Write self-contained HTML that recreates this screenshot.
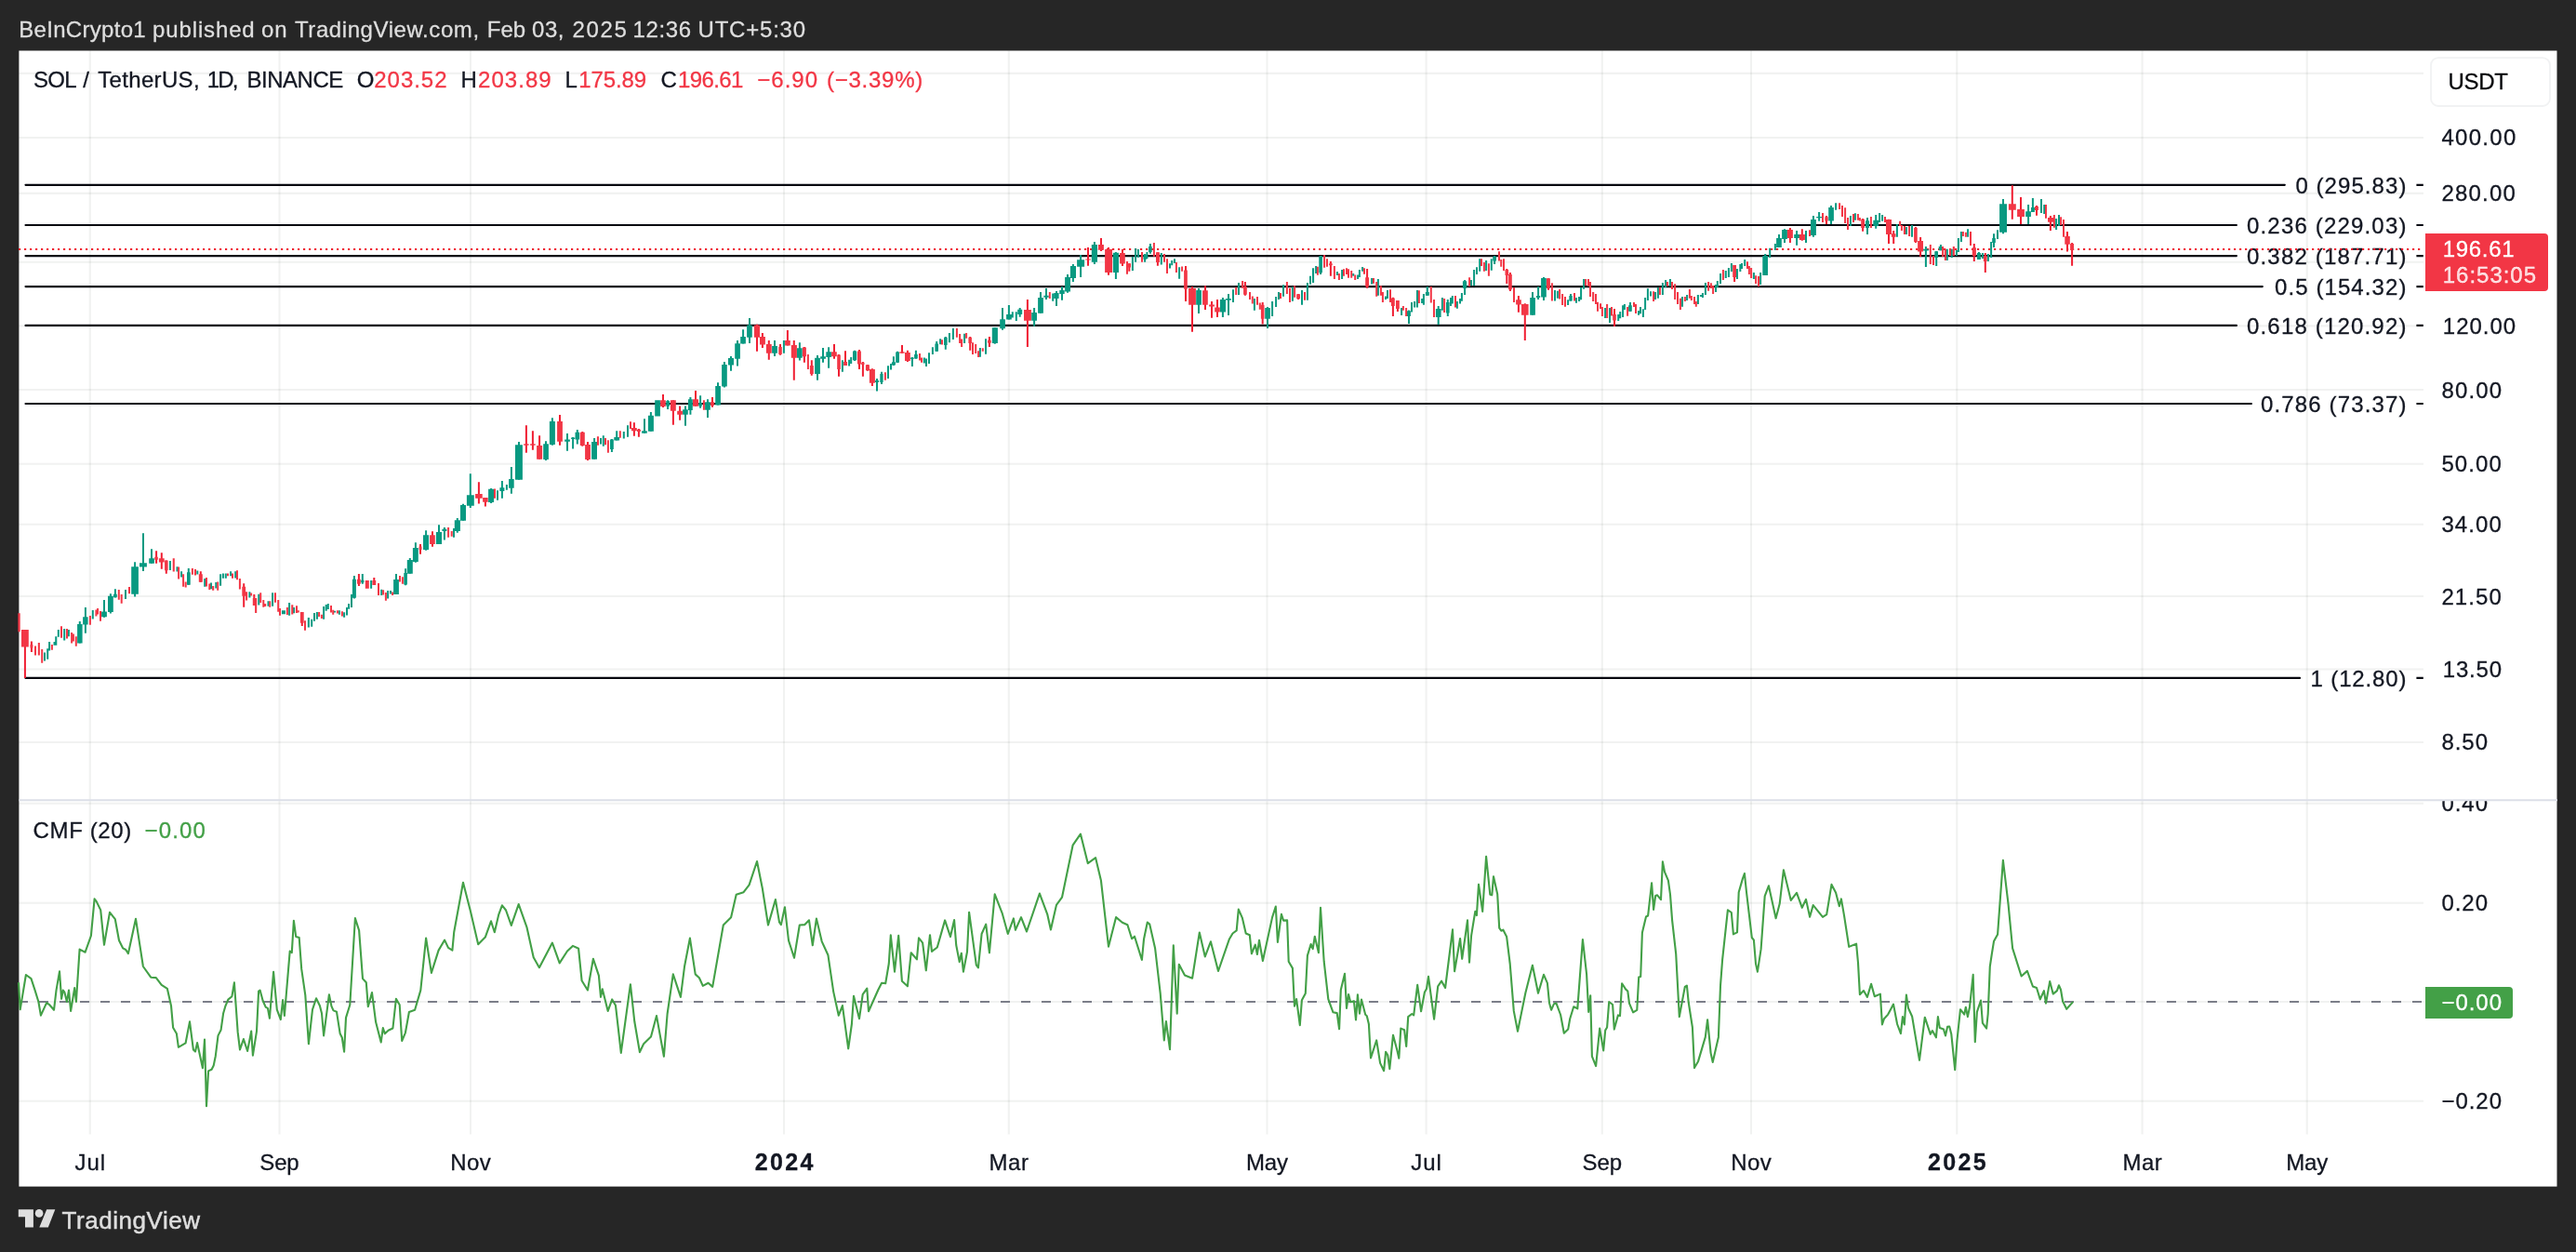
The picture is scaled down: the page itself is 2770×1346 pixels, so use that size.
<!DOCTYPE html>
<html><head><meta charset="utf-8"><title>SOL / TetherUS chart</title>
<style>html,body{margin:0;padding:0;background:#262626;}body{width:2770px;height:1346px;overflow:hidden;font-family:"Liberation Sans",sans-serif;}svg{will-change:transform}svg text{font-family:"Liberation Sans",sans-serif;white-space:pre}</style>
</head><body>
<svg width="2770" height="1346" viewBox="0 0 2770 1346" style="display:block">
<rect x="0" y="0" width="2770" height="1346" fill="#262626"/>
<rect x="20.4" y="54.5" width="2729.1" height="1221.1" fill="#ffffff"/>
<path d="M96.8 54.3V1219.6M300.5 54.3V1219.6M506 54.3V1219.6M843 54.3V1219.6M1084.8 54.3V1219.6M1362.5 54.3V1219.6M1533.6 54.3V1219.6M1722.8 54.3V1219.6M1883 54.3V1219.6M2104.3 54.3V1219.6M2303.6 54.3V1219.6M2480.7 54.3V1219.6" stroke="#1c2b26" stroke-opacity="0.062" stroke-width="2.1" fill="none"/>
<path d="M20.4 78.9H2606M20.4 148.0H2606M20.4 207.9H2606M20.4 281.8H2606M20.4 350.4H2606M20.4 419.0H2606M20.4 498.8H2606M20.4 563.8H2606M20.4 641.0H2606M20.4 719.5H2606M20.4 798.0H2606M20.4 863.8H2606M20.4 970.8H2606M20.4 1077H2606M20.4 1183.7H2606" stroke="#1c2b26" stroke-opacity="0.062" stroke-width="2.1" fill="none"/>
<path d="M20.4 860.2H2750" stroke="#dcdfe8" stroke-width="2" fill="none"/>
<path d="M27.5 198.8H2456.8M27.5 242.0H2404.9M27.5 275.1H2404.9M27.5 308.1H2432.8M27.5 349.9H2404.9M27.5 434.0H2420.9M27.5 728.9H2473.0" stroke="#06070f" stroke-width="2.2" stroke-linecap="round" fill="none"/>
<path d="M2598.4 198.8H2605.8M2598.4 242.0H2605.8M2598.4 275.1H2605.8M2598.4 308.1H2605.8M2598.4 349.9H2605.8M2598.4 434.0H2605.8M2598.4 728.9H2605.8" stroke="#0c0e15" stroke-width="2.2" fill="none"/>
<path d="M20 1077H2606" stroke="#7b7e89" stroke-width="2" stroke-dasharray="10 12" fill="none"/>
<polyline points="20.0,1056.3 21.7,1085.3 27.9,1048.0 33.5,1052.1 37.6,1064.6 41.4,1077.0 43.9,1091.6 50.1,1078.1 53.2,1080.2 58.0,1085.8 60.5,1064.6 64.0,1044.4 66.1,1073.9 67.8,1064.6 69.4,1066.7 71.9,1077.0 74.0,1064.6 76.1,1087.0 80.2,1062.1 81.9,1077.0 85.6,1020.6 91.6,1023.7 97.9,1006.0 101.6,966.4 103.7,969.1 108.2,978.4 112.0,1015.8 118.0,980.9 123.8,988.2 128.0,1011.0 132.1,1019.3 135.2,1021.0 137.9,1025.1 146.0,987.8 153.9,1039.0 162.2,1050.7 167.8,1051.1 173.7,1058.8 179.9,1062.9 184.0,1081.2 186.1,1104.7 189.9,1111.3 191.9,1125.8 199.6,1121.3 204.0,1098.4 207.9,1128.5 210.0,1130.6 212.1,1121.1 217.9,1148.3 220.0,1117.5 222.0,1189.2 224.1,1151.4 227.6,1149.7 229.7,1145.6 231.8,1135.2 234.5,1113.4 237.6,1107.2 240.1,1089.5 242.2,1082.2 245.3,1074.6 249.4,1071.2 251.9,1056.3 255.7,1109.9 258.0,1128.5 261.9,1117.1 266.1,1130.0 270.2,1108.6 271.9,1134.6 276.0,1108.6 278.1,1065.6 279.6,1064.6 282.7,1076.0 285.8,1082.9 287.9,1083.9 289.9,1094.7 294.1,1044.9 297.8,1085.3 301.8,1096.1 304.1,1075.0 305.9,1092.0 311.7,1022.6 313.8,1024.1 315.9,989.8 318.2,1006.9 321.7,1008.1 324.2,1041.7 328.3,1069.8 331.9,1122.3 336.0,1085.3 340.0,1073.3 343.9,1081.2 346.0,1089.5 348.1,1113.4 353.9,1069.2 356.4,1081.6 358.5,1086.4 362.0,1087.8 365.7,1111.3 367.8,1115.5 370.1,1130.6 372.0,1094.1 376.3,1080.2 381.9,987.1 386.1,1000.2 390.0,1052.1 393.8,1056.3 395.8,1082.2 400.0,1067.1 404.1,1098.8 409.7,1120.6 411.8,1105.1 413.9,1111.3 417.6,1107.8 422.4,1105.5 425.9,1073.9 429.7,1080.2 432.2,1119.0 435.9,1110.3 439.9,1088.0 446.1,1085.8 452.3,1064.6 458.1,1008.5 463.9,1045.9 471.6,1021.6 478.1,1010.6 482.0,1018.9 486.4,1021.6 488.2,1002.3 498.0,948.7 505.9,979.5 514.2,1015.2 521.8,1007.6 528.0,990.3 531.8,1002.2 536.3,983.1 539.9,973.3 544.0,978.5 549.8,994.9 557.7,972.1 566.4,996.6 573.7,1029.2 579.9,1040.2 593.9,1013.6 601.7,1035.4 610.0,1022.5 615.9,1016.9 622.1,1019.8 625.6,1054.3 631.9,1064.5 637.9,1030.8 643.9,1048.9 646.0,1071.9 647.8,1063.4 653.7,1086.9 658.2,1074.4 662.0,1081.1 667.8,1131.9 677.9,1058.2 682.3,1098.3 687.9,1131.1 692.1,1122.2 700.0,1114.5 706.0,1092.1 713.9,1135.7 717.6,1090.0 723.8,1047.4 731.9,1071.9 736.1,1038.7 741.9,1008.6 747.7,1047.4 751.9,1051.2 755.8,1059.9 761.6,1056.8 766.2,1060.9 777.8,994.5 786.1,986.2 791.7,961.7 799.6,959.2 805.6,951.3 814.0,926.0 819.8,955.0 826.0,994.5 833.9,967.1 838.0,991.4 839.9,994.1 843.9,975.2 848.0,1011.1 854.0,1029.8 859.8,994.5 865.4,994.1 870.0,989.3 873.8,1016.3 877.9,987.6 883.7,1012.1 890.4,1026.7 896.2,1066.1 901.8,1091.7 905.9,1081.1 912.2,1127.4 915.9,1101.0 918.0,1070.7 924.0,1095.2 927.7,1069.2 932.3,1062.6 934.0,1087.3 944.4,1064.0 948.1,1056.8 952.2,1057.2 955.8,1036.0 957.8,1005.3 962.0,1044.7 966.2,1005.9 969.9,1054.7 975.9,1060.3 979.7,1024.2 985.9,1031.4 988.0,1008.4 992.1,1013.6 995.8,1043.3 1000.0,1005.2 1002.0,1022.9 1007.8,1018.5 1016.1,989.4 1022.0,1007.1 1026.1,989.0 1028.2,1016.0 1031.7,1034.1 1033.8,1024.7 1035.9,1044.7 1040.0,1023.3 1042.1,980.7 1049.8,1037.4 1051.9,1040.3 1055.6,1004.0 1060.2,993.6 1063.9,1024.3 1069.7,961.4 1077.8,982.2 1083.8,1004.0 1089.9,987.4 1091.9,999.8 1098.0,986.1 1104.0,1001.5 1117.9,960.6 1126.2,982.8 1129.9,999.4 1136.0,972.8 1142.0,964.7 1153.6,908.7 1161.9,896.6 1169.8,928.2 1178.1,922.2 1183.9,946.4 1192.0,1017.7 1200.1,986.1 1206.8,991.7 1212.4,994.2 1217.1,1009.2 1220.0,1006.7 1227.9,1032.0 1230.0,1009.8 1233.8,991.5 1236.2,993.6 1242.1,1019.5 1247.7,1067.9 1251.8,1118.4 1253.9,1098.0 1258.0,1128.1 1261.8,1016.4 1265.7,1089.7 1267.8,1036.8 1274.0,1048.6 1282.1,1051.7 1289.8,1002.5 1295.8,1028.5 1301.9,1012.3 1310.0,1044.0 1321.8,1009.8 1325.5,1003.5 1329.7,1000.4 1331.8,977.6 1335.9,986.9 1339.7,1003.5 1343.8,1005.2 1345.9,1025.3 1349.8,1015.6 1351.9,1026.0 1354.0,1010.8 1357.9,1033.0 1368.1,986.1 1371.8,974.5 1373.9,1012.9 1377.9,982.8 1380.1,989.6 1384.1,989.4 1385.7,1033.7 1389.9,1040.9 1392.0,1081.8 1394.1,1074.1 1397.8,1102.2 1399.9,1075.2 1403.8,1067.9 1405.9,1027.4 1409.6,1015.0 1411.7,1020.2 1413.8,1006.7 1417.9,1024.3 1420.0,975.9 1423.7,1033.7 1428.3,1074.1 1433.5,1088.3 1437.7,1089.1 1440.1,1106.3 1441.8,1064.2 1446.0,1046.7 1448.0,1083.9 1450.1,1069.0 1452.2,1077.3 1455.9,1076.2 1458.0,1096.4 1459.9,1069.4 1462.0,1089.7 1464.0,1074.6 1468.2,1090.8 1469.8,1092.2 1471.9,1101.1 1474.0,1137.5 1480.2,1118.4 1484.1,1142.9 1488.1,1151.2 1490.1,1130.9 1492.2,1134.2 1494.3,1149.2 1498.0,1112.8 1502.2,1128.4 1504.3,1137.7 1506.3,1105.6 1510.1,1107.2 1512.2,1124.9 1514.2,1093.1 1518.2,1090.0 1520.2,1091.4 1524.2,1058.8 1528.1,1087.3 1531.9,1066.7 1534.0,1063.0 1536.0,1049.9 1542.1,1095.6 1546.2,1060.3 1550.1,1054.7 1554.1,1062.0 1562.0,999.3 1564.1,1044.3 1570.1,1009.0 1572.2,1030.8 1578.0,989.3 1580.0,1034.6 1582.1,1005.9 1586.3,979.9 1587.9,984.1 1590.0,950.9 1594.2,979.9 1598.1,920.8 1602.3,961.7 1604.3,962.3 1606.0,942.2 1610.2,961.3 1612.2,997.6 1614.3,1000.7 1616.4,999.7 1620.1,1006.9 1623.7,1036.0 1627.8,1086.9 1632.0,1108.7 1640.3,1067.8 1647.9,1037.7 1654.0,1067.8 1660.0,1047.8 1663.9,1056.8 1666.0,1078.2 1668.1,1085.8 1671.0,1079.2 1673.5,1078.6 1678.1,1091.0 1681.8,1110.8 1686.2,1106.6 1688.2,1095.2 1692.2,1082.3 1696.3,1084.4 1701.9,1010.0 1706.1,1047.4 1708.2,1087.9 1710.2,1070.3 1711.9,1135.7 1716.1,1146.1 1720.2,1105.6 1724.2,1129.4 1726.2,1107.6 1728.1,1104.5 1730.2,1077.1 1734.1,1080.0 1735.8,1106.6 1739.9,1091.4 1742.0,1092.1 1744.1,1057.2 1748.2,1063.6 1750.3,1065.5 1752.0,1078.6 1756.1,1088.3 1760.3,1085.8 1762.2,1050.5 1764.2,1049.9 1765.9,1002.8 1770.0,985.5 1772.1,984.5 1776.1,949.2 1778.1,977.9 1780.2,962.9 1782.1,962.3 1786.0,967.1 1787.9,926.4 1790.0,937.4 1793.9,946.7 1796.0,961.7 1798.1,989.3 1802.2,1025.6 1805.8,1093.1 1811.8,1060.9 1813.9,1059.5 1815.7,1077.5 1819.9,1104.5 1822.0,1148.1 1826.1,1140.9 1833.8,1114.9 1836.1,1096.2 1839.6,1132.1 1841.7,1141.9 1847.9,1114.9 1850.0,1059.9 1852.1,1031.9 1857.9,978.3 1861.8,981.0 1863.9,1004.4 1868.0,1002.4 1869.7,959.2 1873.9,944.6 1875.9,939.0 1878.0,959.2 1883.8,1008.0 1885.9,1010.7 1888.0,1036.0 1889.9,1044.7 1893.6,1020.4 1897.7,963.3 1901.9,952.3 1909.6,987.2 1913.7,971.6 1917.9,935.3 1925.8,967.9 1932.0,959.8 1937.8,975.8 1942.0,966.9 1946.1,985.8 1949.7,973.1 1960.0,985.8 1964.2,983.1 1969.5,950.9 1974.1,959.8 1977.8,974.3 1979.9,966.4 1983.0,984.1 1988.2,1017.9 1996.1,1014.6 1998.0,1035.0 1999.9,1069.2 2004.0,1065.1 2007.9,1071.9 2012.1,1057.8 2015.8,1071.3 2021.9,1068.6 2023.9,1101.4 2026.0,1095.2 2030.2,1090.6 2036.0,1079.6 2040.1,1101.0 2043.9,1111.2 2045.9,1093.1 2047.8,1101.4 2049.9,1069.6 2052.0,1083.8 2056.1,1092.7 2064.0,1139.8 2069.8,1093.7 2075.8,1111.8 2077.9,1108.1 2081.9,1115.3 2083.9,1093.1 2085.8,1105.1 2090.0,1106.6 2092.0,1113.5 2094.1,1103.9 2096.2,1103.5 2098.3,1111.8 2102.2,1150.2 2104.5,1118.0 2108.0,1085.2 2112.2,1090.6 2113.8,1082.7 2115.9,1093.1 2118.0,1082.7 2121.7,1047.8 2123.8,1120.1 2125.9,1087.9 2130.0,1075.5 2131.9,1099.8 2136.1,1105.6 2137.7,1090.0 2139.8,1039.1 2141.9,1025.2 2144.0,1012.1 2148.1,1004.4 2153.9,924.9 2159.5,971.6 2164.1,1019.4 2173.6,1049.5 2179.9,1043.9 2185.9,1060.5 2190.0,1062.0 2193.8,1074.4 2197.9,1065.1 2200.0,1078.6 2204.2,1055.1 2207.7,1068.6 2211.9,1065.1 2213.9,1059.3 2216.0,1064.0 2218.1,1076.5 2222.2,1084.8 2229.1,1077.1" stroke="#43a047" stroke-width="2.1" fill="none" stroke-linejoin="round"/>
<g font-family="Liberation Sans, sans-serif">
<text x="20.3" y="39.5" font-size="24" fill="#dedede" textLength="136.4" lengthAdjust="spacing" stroke="#dedede" stroke-width="0.3" >BeInCrypto1</text>
<text x="164.1" y="39.5" font-size="24" fill="#dedede" textLength="109.6" lengthAdjust="spacing" stroke="#dedede" stroke-width="0.3" >published</text>
<text x="281.1" y="39.5" font-size="24" fill="#dedede" textLength="27.6" lengthAdjust="spacing" stroke="#dedede" stroke-width="0.3" >on</text>
<text x="317.0" y="39.5" font-size="24" fill="#dedede" textLength="198.1" lengthAdjust="spacing" stroke="#dedede" stroke-width="0.3" >TradingView.com,</text>
<text x="523.7" y="39.5" font-size="24" fill="#dedede" textLength="41.4" lengthAdjust="spacing" stroke="#dedede" stroke-width="0.3" >Feb</text>
<text x="572.0" y="39.5" font-size="24" fill="#dedede" textLength="34.5" lengthAdjust="spacing" stroke="#dedede" stroke-width="0.3" >03,</text>
<text x="615.6" y="39.5" font-size="24" fill="#dedede" textLength="58.3" lengthAdjust="spacing" stroke="#dedede" stroke-width="0.3" >2025</text>
<text x="680.5" y="39.5" font-size="24" fill="#dedede" textLength="62.6" lengthAdjust="spacing" stroke="#dedede" stroke-width="0.3" >12:36</text>
<text x="750.5" y="39.5" font-size="24" fill="#dedede" textLength="115.6" lengthAdjust="spacing" stroke="#dedede" stroke-width="0.3" >UTC+5:30</text>
<text x="36.0" y="94" font-size="24" fill="#131722" textLength="46.6" lengthAdjust="spacing" stroke="#131722" stroke-width="0.3" >SOL</text>
<text x="89.2" y="94" font-size="24" fill="#131722" textLength="6.0" lengthAdjust="spacing" stroke="#131722" stroke-width="0.3" >/</text>
<text x="105.3" y="94" font-size="24" fill="#131722" textLength="109.3" lengthAdjust="spacing" stroke="#131722" stroke-width="0.3" >TetherUS,</text>
<text x="222.7" y="94" font-size="24" fill="#131722" textLength="33.6" lengthAdjust="spacing" stroke="#131722" stroke-width="0.3" >1D,</text>
<text x="265.4" y="94" font-size="24" fill="#131722" textLength="103.9" lengthAdjust="spacing" stroke="#131722" stroke-width="0.3" >BINANCE</text>
<text x="383.8" y="94" font-size="24" fill="#131722" textLength="17.5" lengthAdjust="spacing" stroke="#131722" stroke-width="0.3" >O</text>
<text x="402.3" y="94" font-size="24" fill="#f23645" textLength="78.2" lengthAdjust="spacing" stroke="#f23645" stroke-width="0.3" >203.52</text>
<text x="495.4" y="94" font-size="24" fill="#131722" textLength="16.7" lengthAdjust="spacing" stroke="#131722" stroke-width="0.3" >H</text>
<text x="514.0" y="94" font-size="24" fill="#f23645" textLength="78.7" lengthAdjust="spacing" stroke="#f23645" stroke-width="0.3" >203.89</text>
<text x="607.6" y="94" font-size="24" fill="#131722" textLength="12.3" lengthAdjust="spacing" stroke="#131722" stroke-width="0.3" >L</text>
<text x="622.2" y="94" font-size="24" fill="#f23645" textLength="73.0" lengthAdjust="spacing" stroke="#f23645" stroke-width="0.3" >175.89</text>
<text x="710.5" y="94" font-size="24" fill="#131722" textLength="16.1" lengthAdjust="spacing" stroke="#131722" stroke-width="0.3" >C</text>
<text x="728.9" y="94" font-size="24" fill="#f23645" textLength="70.5" lengthAdjust="spacing" stroke="#f23645" stroke-width="0.3" >196.61</text>
<text x="814.3" y="94" font-size="24" fill="#f23645" textLength="64.7" lengthAdjust="spacing" stroke="#f23645" stroke-width="0.3" >−6.90</text>
<text x="889.0" y="94" font-size="24" fill="#f23645" textLength="103.2" lengthAdjust="spacing" stroke="#f23645" stroke-width="0.3" >(−3.39%)</text>
<text x="35.6" y="901.1" font-size="24" fill="#131722" textLength="105.6" lengthAdjust="spacing" stroke="#131722" stroke-width="0.3" >CMF (20)</text>
<text x="155.6" y="901.1" font-size="24" fill="#43a047" textLength="65.2" lengthAdjust="spacing" stroke="#43a047" stroke-width="0.3" >−0.00</text>
<rect x="2614" y="62.1" width="128" height="51.9" rx="8" fill="#fff" stroke="#f1f2f3" stroke-width="1.8"/>
<text x="2632.5" y="96" font-size="24" fill="#06070a" textLength="64.3" lengthAdjust="spacing" stroke="#06070a" stroke-width="0.3" >USDT</text>
<text x="2625.4" y="155.9" font-size="24" fill="#131722" textLength="79.9" lengthAdjust="spacing" stroke="#131722" stroke-width="0.3" >400.00</text>
<text x="2625.4" y="215.9" font-size="24" fill="#131722" textLength="79.5" lengthAdjust="spacing" stroke="#131722" stroke-width="0.3" >280.00</text>
<text x="2626.8" y="358.8" font-size="24" fill="#131722" textLength="78.3" lengthAdjust="spacing" stroke="#131722" stroke-width="0.3" >120.00</text>
<text x="2625.4" y="427.8" font-size="24" fill="#131722" textLength="64.8" lengthAdjust="spacing" stroke="#131722" stroke-width="0.3" >80.00</text>
<text x="2625.4" y="506.9" font-size="24" fill="#131722" textLength="64.4" lengthAdjust="spacing" stroke="#131722" stroke-width="0.3" >50.00</text>
<text x="2625.4" y="571.9" font-size="24" fill="#131722" textLength="64.4" lengthAdjust="spacing" stroke="#131722" stroke-width="0.3" >34.00</text>
<text x="2625.4" y="649.8" font-size="24" fill="#131722" textLength="64.4" lengthAdjust="spacing" stroke="#131722" stroke-width="0.3" >21.50</text>
<text x="2626.8" y="727.6" font-size="24" fill="#131722" textLength="63.2" lengthAdjust="spacing" stroke="#131722" stroke-width="0.3" >13.50</text>
<text x="2625.4" y="806.2" font-size="24" fill="#131722" textLength="49.6" lengthAdjust="spacing" stroke="#131722" stroke-width="0.3" >8.50</text>
<clipPath id="cp"><rect x="2606" y="861.3" width="144" height="400"/></clipPath>
<text x="2625.4" y="871.7" font-size="24" fill="#131722" textLength="49.6" lengthAdjust="spacing" stroke="#131722" stroke-width="0.3" clip-path="url(#cp)">0.40</text>
<text x="2625.4" y="978.8" font-size="24" fill="#131722" textLength="49.6" lengthAdjust="spacing" stroke="#131722" stroke-width="0.3" >0.20</text>
<text x="2625.6" y="1191.9" font-size="24" fill="#131722" textLength="64.4" lengthAdjust="spacing" stroke="#131722" stroke-width="0.3" >−0.20</text>
<path d="M2608 251H2736a4 4 0 0 1 4 4V309a4 4 0 0 1-4 4H2608Z" fill="#f23645"/>
<text x="2626.8" y="275.8" font-size="24" fill="#ffffff" textLength="76.7" lengthAdjust="spacing" stroke="#ffffff" stroke-width="0.3" >196.61</text>
<text x="2626.8" y="304" font-size="24" fill="#ffffff" textLength="100.2" lengthAdjust="spacing" stroke="#ffffff" stroke-width="0.3" fill-opacity="0.82">16:53:05</text>
<path d="M2608 1061H2698a4 4 0 0 1 4 4V1091a4 4 0 0 1-4 4H2608Z" fill="#43a047"/>
<text x="2625.6" y="1085.7" font-size="24" fill="#ffffff" textLength="64.4" lengthAdjust="spacing" stroke="#ffffff" stroke-width="0.3" >−0.00</text>
<text x="2468.4" y="207.6" font-size="24" fill="#131722" textLength="119.0" lengthAdjust="spacing" stroke="#131722" stroke-width="0.3" >0 (295.83)</text>
<text x="2416" y="250.7" font-size="24" fill="#131722" textLength="171.4" lengthAdjust="spacing" stroke="#131722" stroke-width="0.3" >0.236 (229.03)</text>
<text x="2416" y="283.8" font-size="24" fill="#131722" textLength="171.4" lengthAdjust="spacing" stroke="#131722" stroke-width="0.3" >0.382 (187.71)</text>
<text x="2446" y="316.5" font-size="24" fill="#131722" textLength="141.4" lengthAdjust="spacing" stroke="#131722" stroke-width="0.3" >0.5 (154.32)</text>
<text x="2416" y="358.8" font-size="24" fill="#131722" textLength="171.4" lengthAdjust="spacing" stroke="#131722" stroke-width="0.3" >0.618 (120.92)</text>
<text x="2431.1" y="442.7" font-size="24" fill="#131722" textLength="156.3" lengthAdjust="spacing" stroke="#131722" stroke-width="0.3" >0.786 (73.37)</text>
<text x="2484.6" y="738.3" font-size="24" fill="#131722" textLength="102.8" lengthAdjust="spacing" stroke="#131722" stroke-width="0.3" >1 (12.80)</text>
</g>
<path d="M20 268H2606" stroke="#f01a2e" stroke-width="2.2" stroke-dasharray="2.2 3.8" fill="none"/>
<path d="M84.8 668.1H86.8V691.5H84.8ZM90.9 653.1H92.9V680.8H90.9ZM111.0 645.1H113.0V663.8H111.0ZM117.9 638.3H119.9V659.5H117.9ZM122.9 633.3H124.9V642.6H122.9ZM144.1 604.3H146.1V641.6H144.1ZM153.0 573.2H155.0V613.9H153.0ZM162.0 590.2H164.0V605.7H162.0ZM201.8 611.0H203.8V628.7H201.8ZM379.9 619.1H381.9V643.6H379.9ZM388.8 617.0H390.8V627.8H388.8ZM425.0 617.0H427.0V639.0H425.0ZM435.1 611.2H437.1V629.2H435.1ZM439.8 600.0H441.8V616.7H439.8ZM445.9 583.2H447.9V604.8H445.9ZM457.1 570.2H459.1V591.8H457.1ZM471.0 564.2H473.0V584.9H471.0ZM476.9 567.1H478.9V580.6H476.9ZM490.8 557.0H492.8V572.8H490.8ZM497.0 541.8H499.0V559.8H497.0ZM504.8 509.2H506.8V545.9H504.8ZM527.1 525.1H529.1V540.9H527.1ZM538.9 517.1H540.9V535.8H538.9ZM548.9 502.1H550.9V530.8H548.9ZM557.0 475.0H559.0V515.7H557.0ZM586.0 474.3H588.0V494.9H586.0ZM592.9 449.2H594.9V478.8H592.9ZM609.0 466.1H611.0V484.8H609.0ZM615.1 470.0H617.1V482.6H615.1ZM619.8 462.1H621.8V477.6H619.8ZM638.1 471.1H640.1V493.7H638.1ZM656.9 471.9H658.9V486.0H656.9ZM662.2 463.2H664.2V473.6H662.2ZM692.0 450.3H694.0V465.7H692.0ZM698.9 443.1H700.9V463.7H698.9ZM717.1 430.2H719.1V440.0H717.1ZM736.0 436.4H738.0V457.8H736.0ZM741.4 427.0H743.4V445.7H741.4ZM752.1 425.2H754.1V438.8H752.1ZM760.0 429.2H762.0V448.9H760.0ZM771.0 411.2H773.0V435.6H771.0ZM777.9 389.0H779.9V416.6H777.9ZM785.0 383.0H787.0V398.8H785.0ZM792.0 366.0H794.0V393.6H792.0ZM798.1 354.2H800.1V369.6H798.1ZM805.0 341.9H807.0V368.9H805.0ZM832.0 366.0H834.0V383.0H832.0ZM858.9 368.2H860.9V387.6H858.9ZM878.0 382.1H880.0V408.8H878.0ZM884.0 373.9H886.0V389.7H884.0ZM890.1 373.2H892.1V395.8H890.1ZM918.1 376.8H920.1V387.9H918.1ZM942.0 407.0H944.0V420.6H942.0ZM947.0 399.8H949.0V413.1H947.0ZM959.9 383.2H961.9V393.0H959.9ZM964.1 377.8H966.1V390.1H964.1ZM979.9 384.0H981.9V394.0H979.9ZM983.9 376.8H985.9V385.8H983.9ZM1006.2 367.1H1008.2V377.8H1006.2ZM1015.8 362.0H1017.8V375.8H1015.8ZM1068.8 352.2H1070.8V369.7H1068.8ZM1077.0 331.1H1079.0V354.8H1077.0ZM1083.9 328.0H1085.9V343.6H1083.9ZM1095.7 331.1H1097.7V340.7H1095.7ZM1111.1 331.1H1113.1V350.8H1111.1ZM1118.0 314.1H1120.0V336.7H1118.0ZM1124.0 310.1H1126.0V322.0H1124.0ZM1135.0 313.1H1137.0V328.9H1135.0ZM1141.0 308.1H1143.0V322.7H1141.0ZM1147.0 295.0H1149.0V314.8H1147.0ZM1152.9 283.9H1154.9V303.0H1152.9ZM1161.1 274.1H1163.1V297.9H1161.1ZM1175.9 259.9H1177.9V283.9H1175.9ZM1198.9 271.0H1200.9V300.0H1198.9ZM1230.1 273.1H1232.1V281.8H1230.1ZM1235.9 261.9H1237.9V272.8H1235.9ZM1288.0 310.1H1290.0V337.1H1288.0ZM1313.9 320.1H1315.9V341.0H1313.9ZM1320.0 316.0H1322.0V339.0H1320.0ZM1362.0 329.9H1364.0V352.9H1362.0ZM1419.1 274.9H1421.1V295.0H1419.1ZM1514.0 333.5H1516.0V347.9H1514.0ZM1533.8 308.1H1535.8V317.7H1533.8ZM1545.7 328.9H1547.7V349.0H1545.7ZM1555.8 322.0H1557.8V340.0H1555.8ZM1574.1 301.1H1576.1V317.0H1574.1ZM1606.1 274.9H1608.1V283.9H1606.1ZM1647.0 314.0H1649.0V338.7H1647.0ZM1653.1 308.1H1655.1V321.9H1653.1ZM1659.0 298.0H1661.0V322.9H1659.0ZM1688.0 316.1H1690.0V323.6H1688.0ZM1752.0 325.1H1754.0V334.8H1752.0ZM1897.2 273.0H1899.2V296.0H1897.2ZM1912.0 251.9H1914.0V266.0H1912.0ZM1918.0 246.2H1920.0V260.9H1918.0ZM1931.1 248.1H1933.1V263.7H1931.1ZM1948.9 232.1H1950.9V254.8H1948.9ZM1955.1 227.9H1957.1V237.8H1955.1ZM1968.0 221.0H1970.0V240.9H1968.0ZM2007.0 234.0H2009.0V251.9H2007.0ZM2016.2 231.1H2018.2V245.8H2016.2ZM2069.9 264.9H2071.9V286.9H2069.9ZM2081.2 269.9H2083.2V286.1H2081.2ZM2085.9 263.1H2087.9V269.2H2085.9ZM2126.9 271.1H2128.9V279.0H2126.9ZM2143.0 251.2H2145.0V266.0H2143.0ZM2153.0 214.1H2155.0V251.2H2153.0ZM2180.1 220.0H2182.1V240.9H2180.1ZM2184.9 213.1H2186.9V227.9H2184.9Z" fill="#089981"/>
<path d="M25.9 677.1H27.9V728.9H25.9ZM32.9 689.4H34.9V700.9H32.9ZM167.1 592.3H169.1V605.7H167.1ZM172.8 594.2H174.8V611.8H172.8ZM177.8 602.4H179.8V616.8H177.8ZM214.8 614.3H216.8V625.8H214.8ZM261.2 627.3H263.2V652.7H261.2ZM272.3 639.1H274.3V650.9H272.3ZM323.8 657.9H325.8V673.0H323.8ZM384.9 617.0H386.9V629.9H384.9ZM401.3 620.9H403.3V628.9H401.3ZM451.0 584.9H453.0V595.8H451.0ZM464.0 571.3H466.0V587.8H464.0ZM513.9 518.2H515.9V541.6H513.9ZM520.9 535.1H522.9V544.5H520.9ZM564.9 457.2H566.9V486.7H564.9ZM571.9 463.2H573.9V483.7H571.9ZM579.1 468.3H581.1V493.7H579.1ZM601.0 446.0H603.0V478.8H601.0ZM625.3 464.0H627.3V479.8H625.3ZM631.0 475.0H633.0V494.9H631.0ZM680.9 454.3H682.9V468.7H680.9ZM685.9 461.1H687.9V469.7H685.9ZM712.0 424.1H714.0V438.1H712.0ZM722.9 430.2H724.9V456.8H722.9ZM730.1 436.4H732.1V451.8H730.1ZM747.0 420.1H749.0V436.7H747.0ZM765.0 427.0H767.0V437.7H765.0ZM813.0 348.8H815.0V377.8H813.0ZM818.9 358.1H820.9V373.9H818.9ZM825.8 366.0H827.8V386.8H825.8ZM838.0 370.0H840.0V381.8H838.0ZM845.9 354.9H847.9V371.5H845.9ZM852.8 366.0H854.8V408.8H852.8ZM863.9 372.9H865.9V389.7H863.9ZM871.8 387.3H873.8V403.8H871.8ZM896.0 370.0H898.0V385.8H896.0ZM901.0 381.1H903.0V404.8H901.0ZM908.0 377.2H910.0V393.0H908.0ZM923.0 376.1H925.0V396.9H923.0ZM926.9 389.0H928.9V404.8H926.9ZM931.9 391.9H933.9V398.8H931.9ZM936.9 396.2H938.9V414.9H936.9ZM969.0 371.0H971.0V379.7H969.0ZM974.9 376.8H976.9V389.0H974.9ZM1042.2 362.0H1044.2V376.8H1042.2ZM1062.9 362.0H1064.9V373.0H1062.9ZM1103.9 322.0H1105.9V373.0H1103.9ZM1169.0 265.9H1171.0V285.8H1169.0ZM1183.0 255.9H1185.0V270.0H1183.0ZM1191.0 265.9H1193.0V295.8H1191.0ZM1206.0 268.1H1208.0V286.1H1206.0ZM1213.3 283.2H1215.3V291.8H1213.3ZM1243.9 271.3H1245.9V285.8H1243.9ZM1274.0 286.1H1276.0V324.1H1274.0ZM1281.0 308.1H1283.0V356.8H1281.0ZM1295.0 307.2H1297.0V333.1H1295.0ZM1302.0 324.1H1304.0V341.8H1302.0ZM1308.0 322.0H1310.0V341.0H1308.0ZM1337.9 303.0H1339.9V317.7H1337.9ZM1356.7 324.9H1358.7V348.6H1356.7ZM1395.1 316.0H1397.1V322.0H1395.1ZM1429.9 281.0H1431.9V296.8H1429.9ZM1469.1 288.9H1471.1V309.8H1469.1ZM1496.9 319.8H1498.9V340.0H1496.9ZM1501.9 323.1H1503.9V334.9H1501.9ZM1619.3 288.9H1621.3V305.0H1619.3ZM1622.9 293.0H1624.9V312.9H1622.9ZM1631.9 317.9H1633.9V335.8H1631.9ZM1638.8 326.2H1640.8V366.0H1638.8ZM1664.0 299.2H1666.0V311.8H1664.0ZM1735.0 332.0H1737.0V350.9H1735.0ZM1864.1 285.1H1866.1V303.1H1864.1ZM1923.9 245.0H1925.9V260.9H1923.9ZM1936.8 246.2H1938.8V258.8H1936.8ZM1963.0 232.1H1965.0V240.9H1963.0ZM2002.1 235.0H2004.1V248.8H2002.1ZM2030.0 235.8H2032.0V262.0H2030.0ZM2035.2 248.1H2037.2V262.0H2035.2ZM2058.9 244.0H2060.9V260.9H2058.9ZM2064.1 255.1H2066.1V275.9H2064.1ZM2121.8 262.0H2123.8V281.0H2121.8ZM2133.8 272.1H2135.8V292.9H2133.8ZM2162.8 199.2H2164.8V235.8H2162.8ZM2172.0 212.0H2174.0V240.9H2172.0ZM2189.0 221.0H2191.0V231.8H2189.0ZM2203.9 232.1H2205.9V248.1H2203.9ZM2222.0 249.1H2224.0V270.6H2222.0ZM2227.1 260.9H2229.1V285.7H2227.1Z" fill="#f01e32"/>
<path d="M47.0 701.6H49.0V710.6H47.0ZM50.2 697.3H52.2V708.8H50.2ZM52.1 690.1H54.1V699.4H52.1ZM57.5 690.1H59.5V693.7H57.5ZM59.2 684.3H61.3V693.7H59.2ZM61.8 677.1H63.8V684.8H61.8ZM68.2 676.1H70.2V688.6H68.2ZM72.9 677.1H74.9V684.3H72.9ZM83.1 671.0H88.6V691.5H83.1ZM89.1 663.2H94.6V671.4H89.1ZM98.8 656.0H100.8V665.6H98.8ZM109.1 657.5H114.9V663.2H109.1ZM116.0 640.8H121.8V658.0H116.0ZM122.1 638.8H125.8V642.2H122.1ZM134.0 634.0H136.0V644.1H134.0ZM141.2 609.2H148.9V638.8H141.2ZM150.0 605.3H157.9V609.6H150.0ZM160.2 600.2H165.9V605.7H160.2ZM181.9 603.1H183.9V612.9H181.9ZM189.5 609.2H191.5V614.6H189.5ZM194.1 614.3H196.1V620.4H194.1ZM201.0 615.3H204.7V628.7H201.0ZM211.3 613.5H213.3V617.5H211.3ZM219.2 622.1H221.2V630.7H219.2ZM226.0 626.4H228.0V633.3H226.0ZM231.3 626.1H233.3V632.6H231.3ZM236.1 617.2H238.1V629.7H236.1ZM238.9 616.4H240.9V621.8H238.9ZM241.8 616.4H243.8V621.8H241.8ZM247.1 614.3H249.1V619.2H247.1ZM252.2 614.3H254.2V621.5H252.2ZM267.4 636.2H269.4V642.6H267.4ZM277.3 638.8H279.3V650.6H277.3ZM287.5 646.2H289.5V651.7H287.5ZM292.1 637.3H294.1V651.7H292.1ZM302.9 656.3H306.9V660.3H302.9ZM310.1 648.0H312.1V661.8H310.1ZM315.1 653.1H317.1V659.2H315.1ZM330.8 664.0H332.9V674.5H330.8ZM334.2 665.8H336.2V673.8H334.2ZM337.0 659.1H339.0V667.7H337.0ZM339.9 657.9H341.9V665.8H339.9ZM347.1 651.9H349.1V665.8H347.1ZM349.7 650.0H351.7V656.8H349.7ZM351.8 649.0H353.8V655.1H351.8ZM359.0 656.8H361.0V658.6H359.0ZM363.9 656.2H365.9V660.8H363.9ZM369.1 658.2H371.1V663.7H369.1ZM372.0 652.9H374.0V661.5H372.0ZM374.1 649.0H376.1V654.8H374.1ZM377.0 639.0H379.0V652.9H377.0ZM378.9 622.7H382.9V642.8H378.9ZM388.2 623.7H391.4V626.3H388.2ZM398.1 624.1H400.1V632.8H398.1ZM409.2 633.8H411.2V640.0H409.2ZM416.1 634.9H418.1V643.6H416.1ZM419.0 634.9H421.0V638.5H419.0ZM423.1 623.1H428.9V639.0H423.1ZM434.3 616.0H437.9V628.5H434.3ZM437.8 601.9H443.8V616.7H437.8ZM443.9 588.9H449.8V604.0H443.9ZM455.0 575.3H461.1V591.1H455.0ZM468.9 572.0H475.1V584.9H468.9ZM475.4 568.8H480.4V571.0H475.4ZM487.0 568.1H489.0V577.7H487.0ZM488.8 559.2H494.9V571.0H488.8ZM495.0 542.9H501.0V559.8H495.0ZM501.9 532.2H509.8V543.8H501.9ZM525.1 525.8H531.1V540.1H525.1ZM534.0 527.2H536.0V537.7H534.0ZM537.4 524.3H542.4V527.9H537.4ZM543.9 521.0H545.9V526.8H543.9ZM547.1 515.0H552.7V524.8H547.1ZM554.0 478.3H561.9V515.7H554.0ZM584.2 477.3H589.9V494.1H584.2ZM590.9 452.9H596.9V478.1H590.9ZM607.2 472.6H612.9V474.8H607.2ZM614.1 470.4H618.1V471.9H614.1ZM618.5 464.7H623.1V472.6H618.5ZM636.1 475.0H642.0V493.7H636.1ZM645.0 471.1H647.0V477.6H645.0ZM647.8 468.3H649.8V479.8H647.8ZM656.0 472.6H659.8V483.1H656.0ZM660.3 470.0H666.1V473.6H660.3ZM669.8 464.0H671.8V471.6H669.8ZM674.0 457.2H676.0V469.7H674.0ZM690.1 463.2H695.8V465.7H690.1ZM696.9 446.7H702.9V463.7H696.9ZM704.2 430.2H709.9V447.4H704.2ZM716.3 430.9H719.9V436.7H716.3ZM734.1 440.2H739.8V445.7H734.1ZM740.0 429.2H744.8V441.0H740.0ZM751.3 433.1H754.8V436.7H751.3ZM758.1 432.3H763.8V440.7H758.1ZM769.2 415.1H774.9V435.6H769.2ZM776.1 391.9H781.8V415.6H776.1ZM783.0 385.0H789.0V392.6H783.0ZM790.2 369.2H795.9V385.8H790.2ZM796.2 362.0H801.9V369.6H796.2ZM803.1 349.5H808.8V362.7H803.1ZM830.1 372.0H835.9V379.7H830.1ZM841.9 366.0H843.9V379.7H841.9ZM857.0 374.3H862.7V384.7H857.0ZM876.1 384.7H881.9V401.9H876.1ZM882.2 383.2H887.9V385.8H882.2ZM888.3 378.2H893.9V384.0H888.3ZM904.9 387.3H906.9V399.8H904.9ZM912.1 386.8H914.1V393.6H912.1ZM914.2 384.0H916.2V391.1H914.2ZM917.0 377.5H921.2V387.3H917.0ZM940.8 409.1H945.1V410.9H940.8ZM946.3 401.9H949.6V410.9H946.3ZM954.0 393.3H956.0V407.0H954.0ZM957.0 391.1H959.1V397.6H957.0ZM958.9 389.3H962.9V392.6H958.9ZM963.2 378.6H967.0V389.7H963.2ZM979.1 384.4H982.7V386.1H979.1ZM983.1 381.1H986.8V385.4H983.1ZM992.8 384.4H994.9V390.4H992.8ZM995.0 385.4H997.0V394.0H995.0ZM998.0 379.2H1000.0V391.1H998.0ZM1001.9 373.2H1003.9V381.1H1001.9ZM1005.4 369.6H1009.0V377.8H1005.4ZM1010.1 364.3H1012.1V370.3H1010.1ZM1015.0 362.8H1018.6V371.0H1015.0ZM1019.9 358.1H1021.9V368.2H1019.9ZM1023.9 353.1H1025.9V364.9H1023.9ZM1036.1 358.8H1038.1V368.9H1036.1ZM1052.9 373.9H1054.9V383.7H1052.9ZM1059.0 364.3H1061.0V380.7H1059.0ZM1066.8 352.2H1072.9V369.1H1066.8ZM1075.2 343.3H1080.9V353.3H1075.2ZM1082.1 338.1H1087.8V343.6H1082.1ZM1087.8 335.2H1089.8V341.4H1087.8ZM1091.8 335.2H1093.8V345.0H1091.8ZM1094.2 332.8H1099.2V338.1H1094.2ZM1109.2 336.1H1115.0V344.7H1109.2ZM1116.1 320.1H1121.9V336.7H1116.1ZM1122.4 317.7H1127.7V319.8H1122.4ZM1131.2 315.5H1133.2V323.7H1131.2ZM1133.3 315.1H1138.6V320.9H1133.3ZM1139.3 311.9H1144.7V316.0H1139.3ZM1145.1 297.9H1151.0V313.4H1145.1ZM1150.9 286.1H1157.0V299.0H1150.9ZM1158.1 279.2H1166.1V286.8H1158.1ZM1173.8 263.1H1180.0V281.8H1173.8ZM1196.8 271.7H1203.0V293.0H1196.8ZM1216.9 276.0H1218.9V291.1H1216.9ZM1220.1 267.1H1222.1V281.8H1220.1ZM1222.9 268.1H1224.9V276.7H1222.9ZM1229.5 273.8H1232.7V278.9H1229.5ZM1232.4 271.0H1234.4V278.2H1232.4ZM1235.1 264.9H1238.7V271.0H1235.1ZM1247.8 272.0H1249.8V284.6H1247.8ZM1257.0 283.2H1259.0V288.6H1257.0ZM1259.2 280.0H1261.2V285.3H1259.2ZM1262.0 278.2H1264.0V282.9H1262.0ZM1267.1 287.2H1269.1V299.7H1267.1ZM1286.2 311.9H1291.9V327.8H1286.2ZM1311.9 322.0H1318.0V335.6H1311.9ZM1318.1 320.9H1323.8V322.7H1318.1ZM1325.0 311.2H1327.0V324.9H1325.0ZM1331.0 304.0H1333.0V317.0H1331.0ZM1347.9 320.9H1349.9V333.8H1347.9ZM1360.2 331.1H1365.9V342.8H1360.2ZM1367.1 324.1H1369.1V340.0H1367.1ZM1371.1 319.1H1373.1V329.9H1371.1ZM1374.0 314.1H1376.0V322.0H1374.0ZM1379.0 306.2H1381.0V318.8H1379.0ZM1388.9 308.3H1390.9V323.7H1388.9ZM1399.0 311.9H1401.0V327.8H1399.0ZM1404.9 304.0H1406.9V322.7H1404.9ZM1408.0 296.8H1410.0V305.8H1408.0ZM1411.0 288.2H1413.1V304.0H1411.0ZM1414.1 286.1H1416.1V294.0H1414.1ZM1418.3 275.3H1421.9V293.2H1418.3ZM1436.9 292.1H1438.9V296.1H1436.9ZM1442.1 290.1H1444.1V300.0H1442.1ZM1454.2 294.0H1456.2V296.8H1454.2ZM1459.1 295.4H1461.1V300.0H1459.1ZM1460.9 290.1H1462.9V297.9H1460.9ZM1464.1 287.1H1466.1V291.8H1464.1ZM1474.1 299.0H1476.2V305.5H1474.1ZM1480.9 300.0H1482.9V317.7H1480.9ZM1489.0 318.4H1491.0V322.0H1489.0ZM1491.0 311.9H1493.0V320.9H1491.0ZM1506.1 331.1H1508.1V339.0H1506.1ZM1513.0 334.2H1516.9V340.0H1513.0ZM1517.0 324.9H1519.0V335.6H1517.0ZM1520.1 324.1H1522.2V330.6H1520.1ZM1523.0 311.9H1525.0V330.6H1523.0ZM1528.1 320.9H1530.1V326.0H1528.1ZM1529.9 316.0H1531.9V327.8H1529.9ZM1532.9 314.1H1536.8V317.7H1532.9ZM1543.9 332.1H1549.6V341.0H1543.9ZM1549.9 320.1H1551.9V333.8H1549.9ZM1555.0 324.9H1558.6V336.4H1555.0ZM1559.0 320.1H1561.0V328.9H1559.0ZM1560.8 318.0H1562.8V326.6H1560.8ZM1565.9 324.1H1567.9V331.8H1565.9ZM1569.0 320.9H1571.0V326.6H1569.0ZM1570.9 315.1H1572.9V323.7H1570.9ZM1572.9 302.3H1577.2V309.8H1572.9ZM1581.0 301.1H1583.0V307.2H1581.0ZM1584.1 290.1H1586.1V307.2H1584.1ZM1587.0 287.2H1589.0V295.0H1587.0ZM1590.2 278.2H1592.2V291.8H1590.2ZM1597.1 280.0H1599.1V291.1H1597.1ZM1602.8 278.2H1604.8V290.7H1602.8ZM1605.2 275.7H1609.0V280.6H1605.2ZM1645.2 320.0H1650.9V338.7H1645.2ZM1651.9 317.9H1656.2V320.0H1651.9ZM1657.1 298.9H1662.8V319.6H1657.1ZM1671.0 312.1H1673.0V323.6H1671.0ZM1673.9 312.8H1675.9V320.8H1673.9ZM1685.1 322.2H1687.1V327.9H1685.1ZM1687.3 317.9H1690.7V323.6H1687.3ZM1694.0 320.0H1696.0V325.8H1694.0ZM1697.0 319.0H1699.1V323.9H1697.0ZM1699.1 309.0H1701.1V322.2H1699.1ZM1702.1 299.9H1704.1V310.7H1702.1ZM1725.1 331.1H1727.1V342.0H1725.1ZM1730.0 331.1H1732.0V346.9H1730.0ZM1739.2 338.0H1741.2V344.9H1739.2ZM1741.2 335.1H1743.2V342.3H1741.2ZM1744.1 328.2H1746.1V340.9H1744.1ZM1745.9 326.9H1747.9V333.0H1745.9ZM1751.1 328.2H1754.8V334.8H1751.1ZM1761.0 334.0H1763.0V338.7H1761.0ZM1763.0 330.1H1765.0V337.3H1763.0ZM1765.9 332.2H1767.9V340.9H1765.9ZM1768.1 320.0H1770.1V333.0H1768.1ZM1770.9 310.2H1772.9V322.9H1770.9ZM1774.0 313.3H1776.0V318.6H1774.0ZM1779.0 314.0H1781.0V321.9H1779.0ZM1781.9 309.0H1783.9V320.8H1781.9ZM1786.9 303.9H1788.9V316.9H1786.9ZM1790.1 301.1H1792.1V309.0H1790.1ZM1794.9 299.9H1797.0V307.8H1794.9ZM1808.0 319.0H1810.0V329.8H1808.0ZM1813.1 317.1H1815.1V322.9H1813.1ZM1824.8 317.1H1826.9V326.9H1824.8ZM1827.9 316.9H1829.9V319.0H1827.9ZM1829.9 315.0H1831.9V320.0H1829.9ZM1832.9 303.9H1834.9V316.9H1832.9ZM1844.0 306.1H1846.0V314.0H1844.0ZM1845.8 302.1H1847.8V309.0H1845.8ZM1849.0 294.1H1851.0V304.9H1849.0ZM1854.7 290.9H1856.8V298.9H1854.7ZM1857.9 288.0H1859.9V298.0H1857.9ZM1860.9 283.1H1862.9V292.0H1860.9ZM1867.0 289.1H1869.0V299.9H1867.0ZM1870.3 284.1H1872.3V292.0H1870.3ZM1872.0 283.1H1874.0V289.1H1872.0ZM1875.2 279.1H1877.2V286.0H1875.2ZM1884.9 293.1H1886.9V299.9H1884.9ZM1892.1 293.1H1894.1V306.1H1892.1ZM1895.3 275.0H1901.0V296.0H1895.3ZM1902.2 266.8H1904.2V276.9H1902.2ZM1907.9 262.0H1909.9V268.9H1907.9ZM1910.1 256.0H1915.8V266.0H1910.1ZM1916.1 246.9H1921.9V257.0H1916.1ZM1929.2 251.9H1935.0V256.0H1929.2ZM1941.0 248.1H1943.0V260.9H1941.0ZM1947.0 236.1H1952.9V253.1H1947.0ZM1953.2 233.0H1959.0V234.2H1953.2ZM1966.2 222.9H1971.9V237.6H1966.2ZM1973.1 218.2H1975.1V225.8H1973.1ZM1988.9 232.1H1990.9V243.0H1988.9ZM1993.9 229.2H1995.9V236.8H1993.9ZM2006.0 237.3H2009.9V245.0H2006.0ZM2014.3 236.8H2020.1V243.0H2014.3ZM2020.1 228.9H2022.1V239.0H2020.1ZM2023.1 231.1H2025.1V237.8H2023.1ZM2038.9 240.9H2040.9V254.8H2038.9ZM2049.0 244.0H2051.0V251.9H2049.0ZM2055.0 241.9H2057.0V254.8H2055.0ZM2068.1 267.8H2073.8V269.6H2068.1ZM2080.3 270.3H2084.0V277.1H2080.3ZM2084.7 264.9H2089.1V269.2H2084.7ZM2092.8 267.8H2094.8V280.0H2092.8ZM2097.8 267.8H2099.8V277.1H2097.8ZM2102.9 268.9H2104.9V274.9H2102.9ZM2104.9 256.0H2106.9V271.1H2104.9ZM2107.9 249.1H2109.9V260.1H2107.9ZM2115.1 246.2H2117.1V254.8H2115.1ZM2125.9 272.1H2129.9V279.0H2125.9ZM2130.9 272.1H2132.9V278.1H2130.9ZM2136.9 273.1H2138.9V281.0H2136.9ZM2140.1 260.1H2142.1V277.1H2140.1ZM2142.2 256.0H2145.8V260.9H2142.2ZM2147.0 247.2H2149.0V257.0H2147.0ZM2150.1 219.2H2158.0V249.8H2150.1ZM2178.2 227.2H2183.9V233.0H2178.2ZM2184.0 222.9H2187.9V227.9H2184.0ZM2194.0 214.1H2196.0V228.9H2194.0ZM2197.2 220.0H2199.2V230.1H2197.2ZM2210.1 235.0H2212.1V246.9H2210.1ZM2213.0 231.1H2215.0V243.0H2213.0Z" fill="#089981"/>
<path d="M19.4 659.2H21.7V679.3H19.4ZM23.0 677.1H30.8V695.4H23.0ZM32.5 693.0H35.4V696.6H32.5ZM37.0 694.4H39.0V704.5H37.0ZM40.8 691.1H42.9V704.5H40.8ZM44.2 698.0H46.2V712.7H44.2ZM54.9 693.0H56.9V698.7H54.9ZM65.0 673.3H67.0V685.8H65.0ZM71.0 676.1H73.0V686.5H71.0ZM76.1 680.0H78.1V691.5H76.1ZM77.9 681.5H79.9V689.4H77.9ZM80.8 684.3H82.8V694.8H80.8ZM95.9 662.1H97.9V671.8H95.9ZM102.4 655.6H104.4V662.4H102.4ZM104.1 654.1H106.1V660.6H104.1ZM107.0 657.0H109.0V667.8H107.0ZM126.8 634.0H128.8V644.8H126.8ZM129.7 639.1H131.7V648.8H129.7ZM138.0 631.1H140.0V638.3H138.0ZM166.3 598.8H169.8V601.7H166.3ZM170.9 600.2H176.7V604.6H170.9ZM177.1 602.4H180.6V613.2H177.1ZM185.7 600.2H187.8V614.6H185.7ZM191.1 609.6H193.1V622.5H191.1ZM196.1 617.2H198.1V630.7H196.1ZM198.7 625.4H200.7V631.6H198.7ZM205.9 611.0H207.9V617.8H205.9ZM209.0 612.0H211.0V618.6H209.0ZM213.8 617.2H217.8V625.8H213.8ZM221.0 621.1H223.0V630.4H221.0ZM224.3 627.6H226.3V634.0H224.3ZM228.1 630.1H230.2V634.8H228.1ZM233.2 625.4H235.2V634.8H233.2ZM244.0 616.4H246.0V619.2H244.0ZM249.0 616.4H251.0V621.8H249.0ZM254.0 613.2H256.0V623.2H254.0ZM256.9 622.1H258.9V633.6H256.9ZM260.3 630.7H264.1V640.8H260.3ZM264.1 636.2H266.1V645.5H264.1ZM269.1 637.6H271.1V640.5H269.1ZM271.8 643.1H274.7V650.9H271.8ZM274.1 643.1H276.2V658.9H274.1ZM279.2 637.3H281.2V648.0H279.2ZM282.3 645.1H284.3V652.7H282.3ZM284.2 649.1H286.2V652.0H284.2ZM289.2 646.2H291.2V652.7H289.2ZM295.0 637.3H297.0V647.7H295.0ZM298.2 645.1H300.2V657.8H298.2ZM300.0 654.1H302.0V661.8H300.0ZM307.9 653.1H309.9V660.9H307.9ZM313.2 650.3H315.3V660.6H313.2ZM318.0 651.3H320.0V658.9H318.0ZM319.8 656.2H321.8V658.6H319.8ZM322.9 657.9H326.7V669.7H322.9ZM327.0 667.3H329.0V677.8H327.0ZM342.1 657.9H344.1V663.0H342.1ZM344.9 660.8H346.9V665.1H344.9ZM355.0 651.0H357.0V658.6H355.0ZM357.2 655.8H359.2V660.8H357.2ZM361.9 656.2H363.9V659.4H361.9ZM366.9 657.2H368.9V662.5H366.9ZM384.0 622.7H387.8V627.8H384.0ZM392.8 624.1H396.8V632.8H392.8ZM400.4 624.1H404.2V628.9H400.4ZM406.0 627.0H408.0V640.0H406.0ZM411.1 634.2H413.1V639.5H411.1ZM413.9 637.1H415.9V645.7H413.9ZM421.1 636.4H423.1V640.0H421.1ZM429.0 619.1H431.0V625.6H429.0ZM431.9 620.3H433.9V627.8H431.9ZM450.6 587.5H453.5V591.1H450.6ZM462.1 575.3H467.8V584.9H462.1ZM481.1 567.1H483.1V577.7H481.1ZM484.7 571.0H486.7V576.7H484.7ZM511.1 531.1H518.7V535.8H511.1ZM519.1 535.1H524.7V539.7H519.1ZM531.0 525.4H533.0V535.8H531.0ZM563.2 477.3H568.6V478.8H563.2ZM570.1 477.3H575.7V478.8H570.1ZM577.1 479.1H583.1V493.7H577.1ZM599.1 452.9H604.9V474.8H599.1ZM623.8 464.7H628.8V479.1H623.8ZM629.1 478.1H634.9V494.1H629.1ZM641.9 469.3H644.0V478.8H641.9ZM650.0 471.1H652.0V478.3H650.0ZM652.9 473.3H654.9V486.7H652.9ZM665.8 463.2H667.8V470.7H665.8ZM677.0 453.2H679.0V461.1H677.0ZM679.0 460.1H684.8V463.2H679.0ZM685.0 461.8H688.9V464.0H685.0ZM710.1 430.2H715.8V437.1H710.1ZM720.9 430.2H726.8V441.7H720.9ZM728.2 441.7H733.9V445.7H728.2ZM745.0 429.2H751.0V436.7H745.0ZM755.9 430.2H757.9V440.7H755.9ZM764.0 432.3H767.9V435.9H764.0ZM811.0 349.5H817.0V362.7H811.0ZM817.0 362.0H822.9V370.6H817.0ZM823.9 370.0H829.7V379.7H823.9ZM837.3 372.9H840.8V381.1H837.3ZM844.1 366.0H849.8V371.5H844.1ZM850.8 371.0H856.9V384.7H850.8ZM862.9 373.5H866.9V383.2H862.9ZM867.9 381.1H869.9V396.9H867.9ZM870.9 393.0H874.8V401.9H870.9ZM894.1 378.2H899.8V383.2H894.1ZM900.2 381.5H903.8V396.9H900.2ZM907.1 389.0H911.0V393.0H907.1ZM922.0 377.5H925.9V391.6H922.0ZM926.2 389.7H929.5V391.9H926.2ZM930.9 392.3H934.9V398.3H930.9ZM934.9 396.9H940.9V411.7H934.9ZM950.9 400.2H952.9V408.8H950.9ZM967.3 378.2H972.6V379.7H967.3ZM973.0 378.9H978.8V387.9H973.0ZM988.0 380.1H990.0V387.6H988.0ZM990.0 384.4H992.0V389.7H990.0ZM1012.0 365.3H1014.0V370.6H1012.0ZM1027.9 353.1H1029.9V362.8H1027.9ZM1031.1 359.1H1033.1V368.9H1031.1ZM1033.1 364.6H1035.1V372.9H1033.1ZM1038.1 358.1H1040.1V363.8H1038.1ZM1041.4 362.8H1044.9V368.9H1041.4ZM1045.0 368.2H1047.0V381.1H1045.0ZM1048.2 370.0H1050.2V380.1H1048.2ZM1051.1 377.2H1053.1V384.0H1051.1ZM1055.8 374.3H1057.8V377.8H1055.8ZM1062.1 365.8H1065.7V368.7H1062.1ZM1101.0 333.1H1108.9V344.7H1101.0ZM1127.8 314.1H1129.8V320.9H1127.8ZM1167.2 278.4H1172.9V279.6H1167.2ZM1181.0 263.1H1186.9V268.8H1181.0ZM1188.1 268.1H1196.0V293.0H1188.1ZM1204.1 272.0H1209.8V283.5H1204.1ZM1211.0 281.0H1213.0V294.7H1211.0ZM1212.6 283.2H1216.0V287.5H1212.6ZM1227.0 271.0H1229.0V281.8H1227.0ZM1239.9 260.9H1241.9V275.7H1239.9ZM1243.0 271.3H1246.9V282.0H1243.0ZM1251.0 273.1H1253.0V281.8H1251.0ZM1254.0 278.2H1256.0V294.0H1254.0ZM1263.9 282.0H1265.9V293.0H1263.9ZM1270.1 286.4H1272.1V291.8H1270.1ZM1273.1 290.4H1276.8V310.8H1273.1ZM1278.1 310.1H1285.9V327.8H1278.1ZM1293.1 312.2H1298.8V327.8H1293.1ZM1300.1 327.5H1305.9V329.6H1300.1ZM1306.2 330.6H1311.8V335.6H1306.2ZM1328.2 308.8H1330.2V317.0H1328.2ZM1335.1 301.9H1337.1V309.8H1335.1ZM1337.1 308.1H1340.8V316.7H1337.1ZM1343.0 314.1H1345.0V322.0H1343.0ZM1345.8 318.4H1347.8V326.6H1345.8ZM1351.0 319.1H1353.0V327.8H1351.0ZM1353.8 325.6H1355.8V332.8H1353.8ZM1355.9 327.8H1359.5V342.8H1355.9ZM1376.0 315.1H1378.0V320.9H1376.0ZM1382.9 303.0H1384.9V316.0H1382.9ZM1386.0 310.1H1388.0V324.9H1386.0ZM1391.1 307.2H1393.1V319.8H1391.1ZM1394.2 316.2H1398.0V321.3H1394.2ZM1402.0 314.1H1404.0V322.7H1402.0ZM1415.9 286.8H1417.9V295.8H1415.9ZM1423.1 274.1H1425.1V287.8H1423.1ZM1426.0 278.2H1428.0V286.8H1426.0ZM1429.1 283.2H1432.7V285.3H1429.1ZM1433.9 286.1H1435.9V300.0H1433.9ZM1438.9 294.0H1440.9V300.9H1438.9ZM1444.0 289.2H1446.0V296.8H1444.0ZM1447.0 288.2H1449.0V295.0H1447.0ZM1449.0 289.2H1451.0V298.7H1449.0ZM1452.2 291.1H1454.2V298.7H1452.2ZM1456.2 295.4H1458.2V300.9H1456.2ZM1466.0 288.2H1468.0V294.7H1466.0ZM1468.2 298.3H1472.0V308.3H1468.2ZM1476.0 299.0H1478.0V304.8H1476.0ZM1479.2 303.0H1481.2V318.8H1479.2ZM1483.9 307.2H1485.9V317.7H1483.9ZM1485.9 314.1H1487.9V324.9H1485.9ZM1494.0 311.2H1496.0V324.9H1494.0ZM1495.9 320.6H1499.8V328.9H1495.9ZM1501.0 323.1H1504.8V332.1H1501.0ZM1507.9 328.9H1509.9V333.8H1507.9ZM1511.1 331.1H1513.1V340.0H1511.1ZM1524.9 312.2H1526.9V326.0H1524.9ZM1537.8 308.1H1539.8V325.6H1537.8ZM1541.0 322.0H1543.0V341.0H1541.0ZM1552.1 320.9H1554.1V335.9H1552.1ZM1564.0 318.0H1566.0V330.6H1564.0ZM1579.1 298.3H1581.1V308.1H1579.1ZM1592.0 278.2H1594.0V286.1H1592.0ZM1594.9 282.0H1596.9V291.8H1594.9ZM1599.9 283.2H1601.9V296.8H1599.9ZM1611.0 270.2H1613.0V280.6H1611.0ZM1613.2 278.9H1615.2V286.8H1613.2ZM1616.0 278.2H1618.0V291.1H1616.0ZM1618.5 290.1H1622.1V296.1H1618.5ZM1622.1 295.0H1625.8V311.2H1622.1ZM1627.0 309.1H1629.0V324.9H1627.0ZM1630.1 322.2H1635.8V327.6H1630.1ZM1636.0 326.9H1643.6V338.7H1636.0ZM1663.0 299.2H1666.9V310.0H1663.0ZM1667.9 304.2H1669.9V323.6H1667.9ZM1676.1 311.0H1678.1V321.5H1676.1ZM1679.1 316.1H1681.1V327.9H1679.1ZM1682.0 319.0H1684.0V329.8H1682.0ZM1692.0 315.0H1694.0V323.6H1692.0ZM1704.1 299.9H1706.1V307.1H1704.1ZM1707.0 299.9H1709.0V307.8H1707.0ZM1709.0 303.1H1711.0V319.0H1709.0ZM1712.1 314.0H1714.2V323.9H1712.1ZM1715.0 316.1H1717.0V326.9H1715.0ZM1717.0 324.8H1719.0V334.8H1717.0ZM1720.0 326.2H1722.1V332.0H1720.0ZM1721.9 330.1H1723.9V340.1H1721.9ZM1727.1 326.9H1729.1V342.0H1727.1ZM1732.0 330.1H1734.0V339.4H1732.0ZM1734.2 338.0H1737.8V344.5H1734.2ZM1749.1 330.1H1751.1V339.7H1749.1ZM1756.0 325.1H1758.0V330.1H1756.0ZM1758.0 326.9H1760.0V336.9H1758.0ZM1777.1 313.3H1779.1V323.9H1777.1ZM1783.9 309.0H1785.9V317.1H1783.9ZM1791.9 303.1H1793.9V307.8H1791.9ZM1797.0 303.1H1799.0V311.0H1797.0ZM1800.1 305.2H1802.1V321.9H1800.1ZM1803.0 314.0H1805.0V326.9H1803.0ZM1805.9 320.8H1807.9V333.0H1805.9ZM1810.9 319.0H1812.9V323.9H1810.9ZM1815.9 311.0H1817.9V320.8H1815.9ZM1817.8 317.9H1819.8V322.9H1817.8ZM1821.0 319.0H1823.0V326.9H1821.0ZM1822.8 323.9H1824.8V329.8H1822.8ZM1836.1 303.1H1838.1V312.8H1836.1ZM1838.9 304.2H1840.9V310.0H1838.9ZM1841.1 307.1H1843.1V316.1H1841.1ZM1851.9 290.1H1853.9V301.1H1851.9ZM1863.2 285.1H1867.0V298.0H1863.2ZM1878.0 281.2H1880.0V289.1H1878.0ZM1879.9 286.0H1881.9V294.9H1879.9ZM1882.1 288.0H1884.1V298.9H1882.1ZM1887.1 296.3H1889.1V304.9H1887.1ZM1890.0 297.0H1892.0V308.1H1890.0ZM1921.9 246.9H1927.9V256.0H1921.9ZM1934.8 251.9H1940.9V258.0H1934.8ZM1945.0 247.2H1947.0V254.1H1945.0ZM1959.0 228.9H1961.0V239.0H1959.0ZM1962.3 233.2H1965.7V237.6H1962.3ZM1977.1 218.2H1979.1V225.1H1977.1ZM1980.0 221.0H1982.0V233.0H1980.0ZM1983.1 223.2H1985.1V240.0H1983.1ZM1986.0 234.0H1988.0V246.9H1986.0ZM1992.0 230.1H1994.0V239.0H1992.0ZM1996.9 230.1H1998.9V236.8H1996.9ZM1998.9 234.0H2000.9V237.6H1998.9ZM2001.2 235.8H2005.0V245.0H2001.2ZM2010.9 233.0H2012.9V245.0H2010.9ZM2026.0 233.0H2028.0V239.0H2026.0ZM2028.0 236.1H2034.0V251.9H2028.0ZM2033.9 251.2H2038.5V254.8H2033.9ZM2042.1 237.8H2044.1V243.0H2042.1ZM2043.9 241.9H2045.9V248.1H2043.9ZM2046.9 243.0H2049.0V251.9H2046.9ZM2052.1 243.0H2054.1V254.1H2052.1ZM2058.1 245.0H2061.7V260.1H2058.1ZM2062.1 259.1H2068.0V270.6H2062.1ZM2074.8 263.1H2076.8V284.0H2074.8ZM2078.0 274.9H2080.0V285.0H2078.0ZM2088.1 264.9H2090.1V275.9H2088.1ZM2090.9 267.8H2092.9V280.0H2090.9ZM2096.0 267.0H2098.0V274.9H2096.0ZM2099.8 264.9H2101.9V274.9H2099.8ZM2109.9 249.1H2111.9V254.1H2109.9ZM2112.9 249.8H2114.9V254.8H2112.9ZM2118.0 249.1H2120.0V264.1H2118.0ZM2120.8 266.3H2124.9V274.9H2120.8ZM2132.9 274.9H2136.6V281.0H2132.9ZM2159.9 219.2H2167.8V225.8H2159.9ZM2169.1 225.1H2176.9V233.0H2169.1ZM2188.0 222.0H2191.9V226.1H2188.0ZM2199.0 220.0H2201.0V234.7H2199.0ZM2202.0 234.0H2207.9V238.7H2202.0ZM2207.9 231.1H2209.9V244.8H2207.9ZM2215.1 233.2H2217.1V241.9H2215.1ZM2218.0 236.1H2220.0V254.8H2218.0ZM2220.3 254.1H2225.8V262.7H2220.3ZM2226.1 262.0H2230.0V268.9H2226.1Z" fill="#f23645"/>
<g font-family="Liberation Sans, sans-serif">
<text x="80.5" y="1258" font-size="24" fill="#131722" textLength="32.6" lengthAdjust="spacing" stroke="#131722" stroke-width="0.3" >Jul</text>
<text x="279.3" y="1258" font-size="24" fill="#131722" textLength="42.4" lengthAdjust="spacing" stroke="#131722" stroke-width="0.3" >Sep</text>
<text x="484.2" y="1258" font-size="24" fill="#131722" textLength="43.5" lengthAdjust="spacing" stroke="#131722" stroke-width="0.3" >Nov</text>
<text x="811.8" y="1258" font-size="25" fill="#131722" textLength="62.5" lengthAdjust="spacing" font-weight="bold" stroke="#131722" stroke-width="0.3" >2024</text>
<text x="1063.6" y="1258" font-size="24" fill="#131722" textLength="42.4" lengthAdjust="spacing" stroke="#131722" stroke-width="0.3" >Mar</text>
<text x="1340.0" y="1258" font-size="24" fill="#131722" textLength="45.0" lengthAdjust="spacing" stroke="#131722" stroke-width="0.3" >May</text>
<text x="1517.3" y="1258" font-size="24" fill="#131722" textLength="32.6" lengthAdjust="spacing" stroke="#131722" stroke-width="0.3" >Jul</text>
<text x="1701.6" y="1258" font-size="24" fill="#131722" textLength="42.4" lengthAdjust="spacing" stroke="#131722" stroke-width="0.3" >Sep</text>
<text x="1861.2" y="1258" font-size="24" fill="#131722" textLength="43.5" lengthAdjust="spacing" stroke="#131722" stroke-width="0.3" >Nov</text>
<text x="2073.1" y="1258" font-size="25" fill="#131722" textLength="62.5" lengthAdjust="spacing" font-weight="bold" stroke="#131722" stroke-width="0.3" >2025</text>
<text x="2282.4" y="1258" font-size="24" fill="#131722" textLength="42.4" lengthAdjust="spacing" stroke="#131722" stroke-width="0.3" >Mar</text>
<text x="2458.2" y="1258" font-size="24" fill="#131722" textLength="45.0" lengthAdjust="spacing" stroke="#131722" stroke-width="0.3" >May</text>
<text x="66.6" y="1320.7" font-size="26" fill="#dedede" textLength="148.4" lengthAdjust="spacing" stroke="#dedede" stroke-width="0.5">TradingView</text>
</g>
<g fill="#dedede"><path d="M19.8 1300.2H35.9V1319.6H27V1308.2H19.8Z"/><circle cx="42.1" cy="1304.4" r="4.3"/><path d="M50.2 1300.2H59.3L51.8 1319.6H42.3Z"/></g>
</svg>
</body></html>
